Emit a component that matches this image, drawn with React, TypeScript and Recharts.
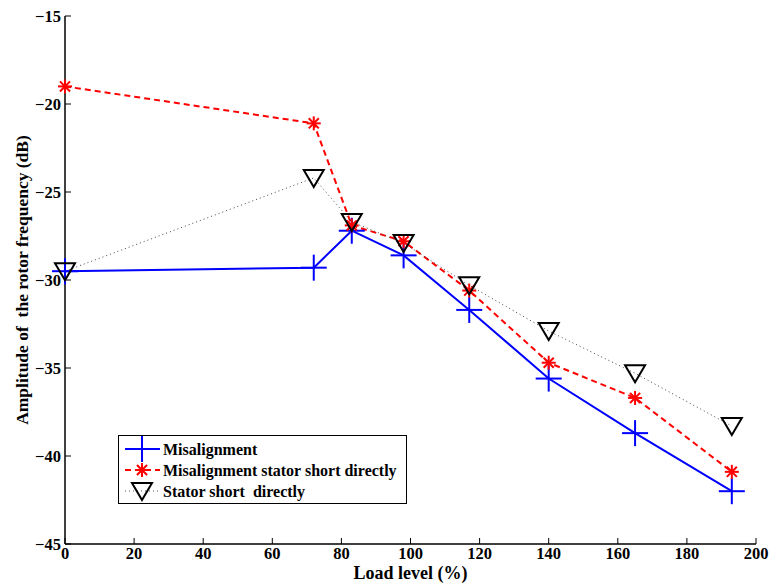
import React from "react";
import { LineChart, Line, XAxis, YAxis, Legend } from "recharts";

// load level (%) on the x axis
const loadLevels = [0, 72, 83, 98, 117, 140, 165, 193];

// amplitude of the rotor frequency (dB)
const misalignment = [-29.5, -29.3, -27.2, -28.6, -31.7, -35.6, -38.7, -42.0];
const misalignmentStatorShort = [-19.0, -21.1, -26.9, -27.8, -30.6, -34.7, -36.7, -40.9];
const statorShort = [-29.5, -24.2, -26.7, -27.9, -30.3, -32.9, -35.3, -38.3];

const xTicks = [0, 20, 40, 60, 80, 100, 120, 140, 160, 180, 200];
const yTicks = [-45, -40, -35, -30, -25, -20, -15];

const seriesNames = [
  "Misalignment",
  "Misalignment stator short directly",
  "Stator short\u00a0 directly",
];

const data = loadLevels.map((x, i) => ({
  load: x,
  mis: misalignment[i],
  misStator: misalignmentStatorShort[i],
  stator: statorShort[i],
}));

const FONT = "Liberation Serif, Times New Roman, serif";
const BLUE = "#0000ff";
const RED = "#ff0000";

const fmt = (v: number) => String(v).replace("-", "\u2212");

const PlusMark = ({ cx, cy, color = BLUE, r = 13 }: any) => (
  <g stroke={color} strokeWidth={2} fill="none">
    <line x1={cx - r} y1={cy} x2={cx + r} y2={cy} />
    <line x1={cx} y1={cy - r} x2={cx} y2={cy + r} />
  </g>
);

const StarMark = ({ cx, cy, color = RED, r = 7 }: any) => {
  const d = r * 0.72;
  return (
    <g stroke={color} strokeWidth={2} fill="none">
      <line x1={cx - r} y1={cy} x2={cx + r} y2={cy} />
      <line x1={cx} y1={cy - r} x2={cx} y2={cy + r} />
      <line x1={cx - d} y1={cy - d} x2={cx + d} y2={cy + d} />
      <line x1={cx - d} y1={cy + d} x2={cx + d} y2={cy - d} />
    </g>
  );
};

const TriMark = ({ cx, cy, r = 10 }: any) => (
  <polygon
    points={`${cx - r},${cy - r * 0.8} ${cx + r},${cy - r * 0.8} ${cx},${cy + r * 0.9}`}
    stroke="#000"
    strokeWidth={2}
    fill="none"
    strokeLinejoin="miter"
  />
);

const LegendBox = () => {
  const rows = [
    { dash: undefined, color: BLUE, w: 2, mark: (x: number, y: number) => <PlusMark cx={x} cy={y} /> },
    { dash: "6 4", color: RED, w: 2, mark: (x: number, y: number) => <StarMark cx={x} cy={y} /> },
    { dash: "1 3", color: "#555", w: 1, mark: (x: number, y: number) => <TriMark cx={x} cy={y} /> },
  ];
  return (
    <svg width={290} height={70} style={{ overflow: "visible", display: "block" }}>
      <rect x={0.5} y={0.5} width={288} height={68} fill="#fff" stroke="#000" strokeWidth={1} />
      {rows.map((r, i) => {
        const y = 14 + i * 21;
        return (
          <g key={i}>
            <line x1={7} x2={42} y1={y} y2={y} stroke={r.color} strokeWidth={r.w} strokeDasharray={r.dash} />
            {r.mark(24, y)}
            <text
              x={45}
              y={y}
              dy="0.35em"
              style={{ fontFamily: FONT, fontWeight: "bold", fontSize: 16 }}
              fill="#000"
            >
              {seriesNames[i]}
            </text>
          </g>
        );
      })}
    </svg>
  );
};

const YLabel = (props: any) => {
  const { viewBox } = props;
  const x = viewBox.x + 7;
  const y = viewBox.y + viewBox.height / 2;
  return (
    <text
      x={x}
      y={y}
      transform={`rotate(-90, ${x}, ${y})`}
      textAnchor="middle"
      dominantBaseline="central"
      style={{ fontFamily: FONT, fontWeight: "bold", fontSize: 17.5 }}
      fill="#000"
    >
      {"Amplitude of\u00a0 the rotor frequency (dB)"}
    </text>
  );
};

const tickStyle = { fontFamily: FONT, fontWeight: "bold", fontSize: 16.5, fill: "#000" };
const axisLine = { stroke: "#000", strokeWidth: 1.5 };
const tickLine = { stroke: "#000", strokeWidth: 1 };

export default function App() {
  return (
    <div style={{ position: "absolute", left: 0, top: 0, background: "#fff", fontFamily: FONT }}>
      <LineChart
        width={770}
        height={583}
        data={data}
        margin={{ top: 16, right: 14, left: 15, bottom: 0 }}
      >
        <XAxis
          xAxisId="b"
          dataKey="load"
          type="number"
          domain={[0, 200]}
          ticks={xTicks}
          interval={0}
          height={39}
          tick={tickStyle}
          tickSize={-6}
          tickMargin={9}
          axisLine={axisLine}
          tickLine={tickLine}
          label={{
            value: "Load level (%)",
            position: "insideBottom",
            offset: 4,
            style: { fontFamily: FONT, fontWeight: "bold", fontSize: 18, fill: "#000" },
          }}
        />
        <XAxis
          xAxisId="t"
          orientation="top"
          dataKey="load"
          type="number"
          domain={[0, 200]}
          ticks={xTicks}
          interval={0}
          height={0}
          tick={false}
          tickSize={-6}
          axisLine={axisLine}
          tickLine={tickLine}
        />
        <YAxis
          yAxisId="l"
          type="number"
          domain={[-45, -15]}
          ticks={yTicks}
          interval={0}
          width={50}
          tick={tickStyle}
          tickFormatter={fmt}
          tickSize={-6}
          tickMargin={10}
          axisLine={axisLine}
          tickLine={tickLine}
          label={<YLabel />}
        />
        <YAxis
          yAxisId="r"
          orientation="right"
          type="number"
          domain={[-45, -15]}
          ticks={yTicks}
          interval={0}
          width={0}
          tick={false}
          tickSize={-6}
          axisLine={axisLine}
          tickLine={tickLine}
        />
        <Line
          xAxisId="b"
          yAxisId="l"
          dataKey="mis"
          stroke={BLUE}
          strokeWidth={2}
          dot={(p: any) => <PlusMark key={p.index} cx={p.cx} cy={p.cy} />}
          isAnimationActive={false}
          type="linear"
        />
        <Line
          xAxisId="b"
          yAxisId="l"
          dataKey="misStator"
          stroke={RED}
          strokeWidth={2}
          strokeDasharray="6 4"
          dot={(p: any) => <StarMark key={p.index} cx={p.cx} cy={p.cy} />}
          isAnimationActive={false}
          type="linear"
        />
        <Line
          xAxisId="b"
          yAxisId="l"
          dataKey="stator"
          stroke="#444"
          strokeWidth={1}
          strokeDasharray="1 3"
          dot={(p: any) => <TriMark key={p.index} cx={p.cx} cy={p.cy} />}
          isAnimationActive={false}
          type="linear"
        />
        <Legend
          verticalAlign="middle"
          content={<LegendBox />}
          wrapperStyle={{ position: "absolute", left: 118, top: 435, width: 290, height: 70 }}
        />
      </LineChart>
    </div>
  );
}
